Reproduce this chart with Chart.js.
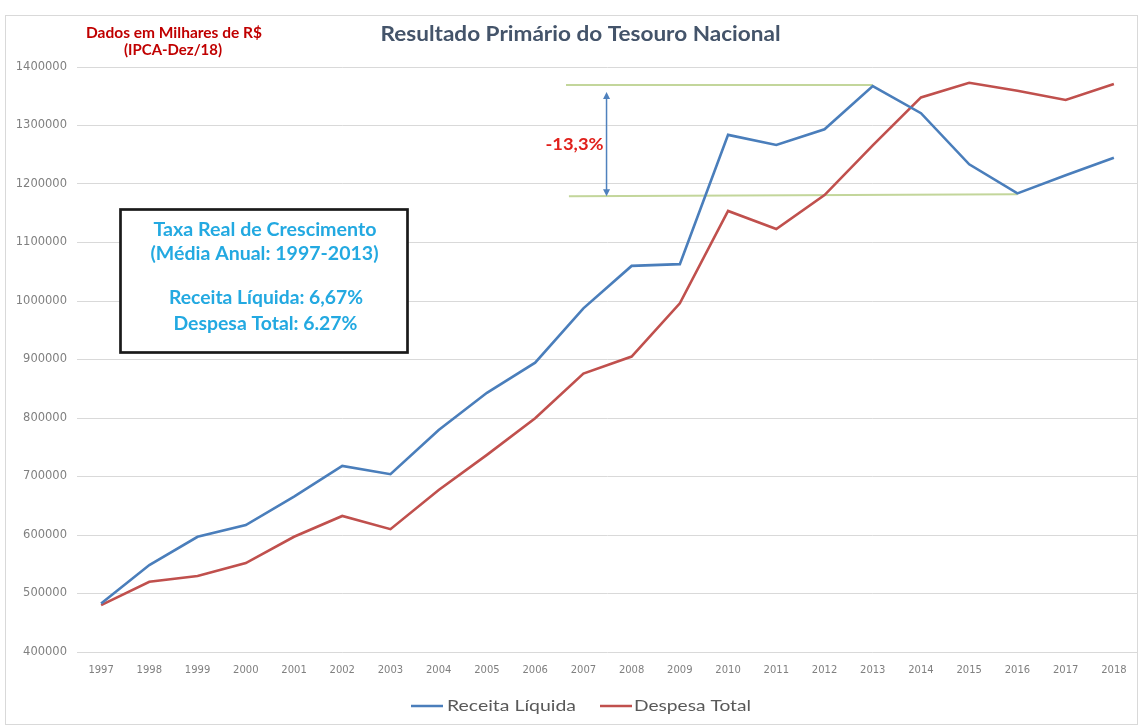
<!DOCTYPE html>
<html>
<head>
<meta charset="utf-8">
<script src="https://cdn.jsdelivr.net/npm/chart.js@4"></script>
<style>
  html, body { margin: 0; padding: 0; background: #ffffff; }
  canvas { display: block; }
</style>
</head>
<body>
<canvas id="c" width="1139" height="726"></canvas>
<script>
// ---- data ----
const years = ['1997','1998','1999','2000','2001','2002','2003','2004','2005','2006','2007',
               '2008','2009','2010','2011','2012','2013','2014','2015','2016','2017','2018'];
const receitaLiquida = [483000, 548700, 597000, 617000, 665500, 718000, 704000, 779500, 843000, 894500, 987500,
                        1060000, 1063000, 1284000, 1266700, 1293500, 1367500, 1321000, 1233700, 1184000, 1215000, 1245000];
const despesaTotal = [480000, 520000, 530000, 552000, 597000, 632500, 610000, 677000, 737000, 799500, 876000,
                      905000, 996000, 1154000, 1123000, 1181000, 1266000, 1348000, 1373000, 1359500, 1343600, 1371000];
const yMin = 400000;
const yMax = 1400000;
const yStep = 100000;
const seriesNames = ['Receita Líquida', 'Despesa Total'];
const chartTitle = 'Resultado Primário do Tesouro Nacional';
const noteLines = ['Dados em Milhares de R$', '(IPCA-Dez/18)'];
const boxLines = ['Taxa Real de Crescimento', '(Média Anual: 1997-2013)', 'Receita Líquida: 6,67%', 'Despesa Total: 6.27%'];
const dropLabel = '-13,3%';
const peakIndex = 16;   // 2013
const troughIndex = 19; // 2016

const BLUE = '#4a7ebb';
const RED = '#c0504d';

function fitText(ctx, text, cx, cy, w, size, weight, family, color) {
  ctx.save();
  ctx.font = weight + ' ' + size + 'px ' + family;
  const m = ctx.measureText(text).width;
  const sx = w / m;
  ctx.translate(cx, cy);
  ctx.scale(sx, 1);
  ctx.textAlign = 'center';
  ctx.textBaseline = 'middle';
  ctx.fillStyle = color;
  ctx.fillText(text, 0, 0);
  ctx.restore();
}

const decor = {
  id: 'decor',
  beforeDraw(chart) {
    const ctx = chart.ctx;
    ctx.save();
    ctx.fillStyle = '#ffffff';
    ctx.fillRect(0, 0, chart.width, chart.height);
    ctx.strokeStyle = '#d9d9d9';
    ctx.lineWidth = 1;
    ctx.strokeRect(5.5, 15.5, chart.width - 7, chart.height - 17);
    ctx.restore();
  },
  beforeDatasetsDraw(chart) {
    const ctx = chart.ctx;
    const xs = chart.scales.x, ys = chart.scales.y;
    const ds0 = chart.data.datasets[0].data;
    const yPeak = ys.getPixelForValue(ds0[peakIndex]);
    const yTrough = ys.getPixelForValue(ds0[troughIndex]);
    ctx.save();
    ctx.strokeStyle = '#c3d69b';
    ctx.lineWidth = 2;
    ctx.beginPath();
    ctx.moveTo(xs.getPixelForValue(9.64), yPeak - 1);
    ctx.lineTo(xs.getPixelForValue(peakIndex), yPeak - 1);
    ctx.moveTo(xs.getPixelForValue(9.7), yTrough + 3);
    ctx.lineTo(xs.getPixelForValue(troughIndex), yTrough + 1);
    ctx.stroke();
    // double arrow
    const ax = xs.getPixelForValue(10.48);
    const a1 = yPeak + 6, a2 = yTrough + 3;
    ctx.strokeStyle = '#4f81bd';
    ctx.fillStyle = '#4f81bd';
    ctx.lineWidth = 1.5;
    ctx.beginPath();
    ctx.moveTo(ax, a1 + 4);
    ctx.lineTo(ax, a2 - 4);
    ctx.stroke();
    ctx.beginPath();
    ctx.moveTo(ax, a1); ctx.lineTo(ax - 3.5, a1 + 7); ctx.lineTo(ax + 3.5, a1 + 7); ctx.closePath();
    ctx.moveTo(ax, a2); ctx.lineTo(ax - 3.5, a2 - 7); ctx.lineTo(ax + 3.5, a2 - 7); ctx.closePath();
    ctx.fill();
    fitText(ctx, dropLabel, ax - 32, (a1 + a2) / 2, 58, 17, 'bold', 'Lato', '#e0201b');
    ctx.restore();
  },
  afterDraw(chart) {
    const ctx = chart.ctx;
    ctx.save();
    // title and note
    fitText(ctx, chartTitle, 580.5, 34, 400, 21, 'bold', 'Lato', '#44546a');
    fitText(ctx, noteLines[0], 174, 33, 176, 15, 'bold', 'Lato', '#c00000');
    fitText(ctx, noteLines[1], 173, 50, 98, 15, 'bold', 'Lato', '#c00000');
    // box
    ctx.fillStyle = '#ffffff';
    ctx.fillRect(120.5, 209.5, 287, 143);
    ctx.strokeStyle = '#1a1a1a';
    ctx.lineWidth = 2.7;
    ctx.strokeRect(120.5, 209.5, 287, 143);
    const bc = '#23a9e1';
    fitText(ctx, boxLines[0], 265, 230.5, 223, 18, 'bold', 'Lato', bc);
    fitText(ctx, boxLines[1], 264.5, 254, 228, 18, 'bold', 'Lato', bc);
    fitText(ctx, boxLines[2], 266, 298, 194, 18, 'bold', 'Lato', bc);
    fitText(ctx, boxLines[3], 265.5, 324, 184, 18, 'bold', 'Lato', bc);
    // legend
    const ds = chart.data.datasets;
    const legendItems = [
      { lx0: 411, lx1: 443, tx: 511.5, tw: 129 },
      { lx0: 600, lx1: 632, tx: 692.5, tw: 117 }
    ];
    ds.forEach((d, i) => {
      const it = legendItems[i];
      ctx.strokeStyle = d.borderColor;
      ctx.lineWidth = 2.5;
      ctx.beginPath();
      ctx.moveTo(it.lx0, 706);
      ctx.lineTo(it.lx1, 706);
      ctx.stroke();
      fitText(ctx, d.label, it.tx, 706, it.tw, 16, 'normal', 'Lato', '#595959');
    });
    ctx.restore();
  }
};

new Chart(document.getElementById('c'), {
  type: 'line',
  data: {
    labels: years,
    datasets: [
      { label: seriesNames[0], data: receitaLiquida, borderColor: BLUE, backgroundColor: BLUE,
        borderWidth: 2.6, pointRadius: 0, tension: 0, fill: false },
      { label: seriesNames[1], data: despesaTotal, borderColor: RED, backgroundColor: RED,
        borderWidth: 2.6, pointRadius: 0, tension: 0, fill: false }
    ]
  },
  options: {
    responsive: false,
    devicePixelRatio: 1,
    animation: false,
    layout: { padding: { top: 67, bottom: 44, left: 5, right: 1 } },
    plugins: {
      legend: { display: false },
      title: { display: false },
      tooltip: { enabled: false }
    },
    scales: {
      x: {
        offset: true,
        grid: { display: false, drawTicks: false },
        border: { display: false },
        ticks: {
          autoSkip: false, maxRotation: 0, padding: 12,
          color: '#808080', font: { family: 'DejaVu Sans', size: 10 }
        },
        afterFit(s) { s.height = 30; }
      },
      y: {
        min: yMin, max: yMax,
        grid: { color: '#d9d9d9', lineWidth: 1, drawTicks: false },
        border: { display: false },
        ticks: {
          stepSize: yStep, padding: 10,
          color: '#808080', font: { family: 'DejaVu Sans', size: 11.5 },
          callback: v => String(v)
        },
        afterFit(s) { s.width = 72; }
      }
    }
  },
  plugins: [decor]
});
</script>
</body>
</html>
